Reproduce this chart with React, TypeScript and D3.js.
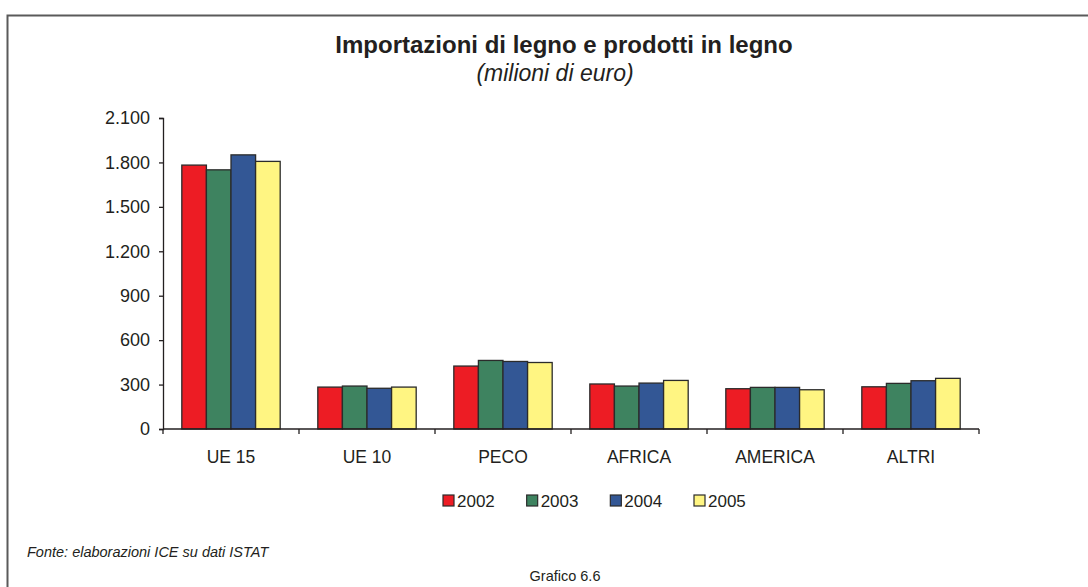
import React, { useEffect, useRef } from 'react';
import * as d3 from 'd3';

const categories = ['UE 15', 'UE 10', 'PECO', 'AFRICA', 'AMERICA', 'ALTRI'];
const years = ['2002', '2003', '2004', '2005'];
const values2002 = [1782, 283, 425, 304, 272, 285];
const values2003 = [1750, 290, 463, 290, 281, 308];
const values2004 = [1851, 275, 456, 310, 281, 326];
const values2005 = [1807, 283, 449, 328, 265, 342];
const yTicks = [0, 300, 600, 900, 1200, 1500, 1800, 2100];
const colors = ['#ed1c24', '#3e8360', '#335795', '#fff582'];

const FONT = '"Liberation Sans", Arial, sans-serif';

const App: React.FC = () => {
  const svgRef = useRef<SVGSVGElement>(null);

  useEffect(() => {
    if (!svgRef.current) return;
    const svg = d3.select(svgRef.current);
    svg.selectAll('*').remove();

    const series = [values2002, values2003, values2004, values2005];
    const left = 163, right = 979, top = 118, bottom = 429;

    // frame
    svg.append('path')
      .attr('d', 'M7.5,587 L7.5,15.5 L1088,15.5')
      .attr('fill', 'none')
      .attr('stroke', '#5a5a5a')
      .attr('stroke-width', 2);

    svg.append('text')
      .attr('x', 564).attr('y', 53)
      .attr('text-anchor', 'middle')
      .attr('font-family', FONT)
      .attr('font-weight', 'bold')
      .attr('font-size', 24)
      .attr('fill', '#231f20')
      .text('Importazioni di legno e prodotti in legno');

    svg.append('text')
      .attr('x', 555).attr('y', 81)
      .attr('text-anchor', 'middle')
      .attr('font-family', FONT)
      .attr('font-style', 'italic')
      .attr('font-size', 23)
      .attr('fill', '#231f20')
      .text('(milioni di euro)');

    const x0 = d3.scaleBand<string>()
      .domain(categories)
      .range([left, right])
      .paddingInner(0)
      .paddingOuter(0);

    const x1 = d3.scaleBand<string>()
      .domain(years)
      .range([0, x0.bandwidth()])
      .paddingInner(0)
      .paddingOuter(0.765);

    const y = d3.scaleLinear().domain([0, 2100]).range([bottom, top]);

    const locale = d3.formatLocale({ decimal: ',', thousands: '.', grouping: [3], currency: ['', ''] });
    const fmt = locale.format(',d');

    // y axis
    const yAxis = svg.append('g')
      .attr('transform', `translate(${left},0)`)
      .call(d3.axisLeft(y).tickValues(yTicks).tickFormat(d => fmt(d as number)).tickSize(4).tickPadding(9));
    yAxis.select('.domain').attr('stroke', '#231f20').attr('stroke-width', 1.3);
    yAxis.selectAll('.tick line').attr('stroke', '#231f20').attr('stroke-width', 1.3);
    yAxis.selectAll('.tick text')
      .attr('font-family', FONT)
      .attr('font-size', 18)
      .attr('fill', '#231f20');

    // bars
    const groups = svg.append('g')
      .selectAll('g')
      .data(categories)
      .join('g')
      .attr('transform', d => `translate(${x0(d)},0)`);

    groups.selectAll('rect')
      .data((c, i) => years.map((yr, j) => ({ yr, j, v: series[j][i] })))
      .join('rect')
      .attr('x', d => x1(d.yr)!)
      .attr('y', d => y(d.v))
      .attr('width', x1.bandwidth())
      .attr('height', d => bottom - y(d.v))
      .attr('fill', d => colors[d.j])
      .attr('stroke', '#2b2b2b')
      .attr('stroke-width', 1.3);

    // x axis: line + ticks at category boundaries
    svg.append('line')
      .attr('x1', left).attr('x2', right)
      .attr('y1', bottom).attr('y2', bottom)
      .attr('stroke', '#231f20').attr('stroke-width', 1.3);

    const bounds = categories.map(c => x0(c)!).concat([right]);
    svg.append('g').selectAll('line')
      .data(bounds)
      .join('line')
      .attr('x1', d => d).attr('x2', d => d)
      .attr('y1', bottom).attr('y2', bottom + 5)
      .attr('stroke', '#231f20').attr('stroke-width', 1.3);

    svg.append('g').selectAll('text')
      .data(categories)
      .join('text')
      .attr('x', d => x0(d)! + x0.bandwidth() / 2)
      .attr('y', 463)
      .attr('text-anchor', 'middle')
      .attr('font-family', FONT)
      .attr('font-size', 17.5)
      .attr('fill', '#231f20')
      .text(d => d);

    // legend
    const legendX = d3.scalePoint<string>().domain(years).range([443, 694]);
    const lg = svg.append('g').selectAll('g')
      .data(years)
      .join('g')
      .attr('transform', d => `translate(${legendX(d)},495)`);
    lg.append('rect')
      .attr('width', 11).attr('height', 11)
      .attr('fill', (d, i) => colors[i])
      .attr('stroke', '#2b2b2b').attr('stroke-width', 1.2);
    lg.append('text')
      .attr('x', 14).attr('y', 12)
      .attr('font-family', FONT)
      .attr('font-size', 17)
      .attr('fill', '#231f20')
      .text(d => d);

    svg.append('text')
      .attr('x', 27).attr('y', 557)
      .attr('font-family', FONT)
      .attr('font-style', 'italic')
      .attr('font-size', 14.5)
      .attr('fill', '#231f20')
      .text('Fonte: elaborazioni ICE su dati ISTAT');

    svg.append('text')
      .attr('x', 565).attr('y', 581)
      .attr('text-anchor', 'middle')
      .attr('font-family', FONT)
      .attr('font-size', 14.5)
      .attr('fill', '#231f20')
      .text('Grafico 6.6');
  }, []);

  return (
    <svg ref={svgRef} width={1088} height={587}
      style={{ position: 'fixed', top: 0, left: 0, background: '#fff' }} />
  );
};

export default App;
